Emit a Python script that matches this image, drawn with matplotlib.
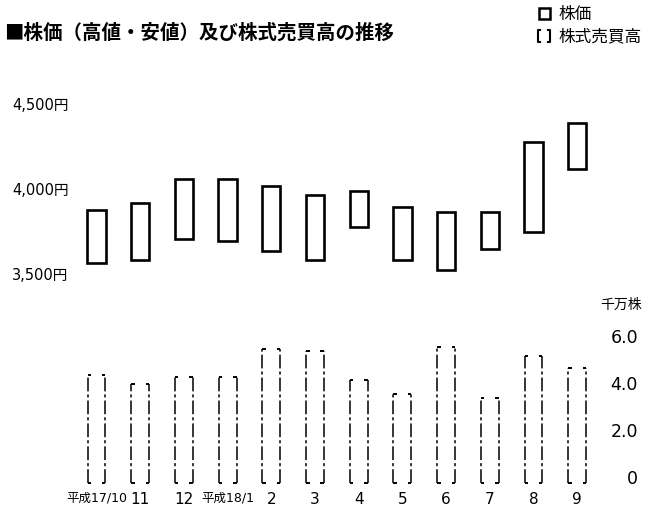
import matplotlib
matplotlib.use('Agg')
import matplotlib.pyplot as plt
from matplotlib.patches import Rectangle
import numpy as np

plt.rcParams['font.family'] = ['DejaVu Sans', 'Noto Sans CJK JP']

# 月ラベル
months = ['平成17/10', '11', '12', '平成18/1', '2', '3', '4', '5', '6', '7', '8', '9']
# 株価 高値・安値（円）
high = [3880, 3920, 4060, 4060, 4020, 3970, 3990, 3900, 3870, 3870, 4280, 4390]
low = [3570, 3590, 3710, 3700, 3640, 3590, 3780, 3590, 3530, 3650, 3750, 4120]
# 株式売買高（千万株）
volume = [4.6, 4.2, 4.5, 4.5, 5.7, 5.6, 4.4, 3.8, 5.8, 3.6, 5.4, 4.9]

price_ticks = [3500, 4000, 4500]
price_labels = ['3,500円', '4,000円', '4,500円']
vol_ticks = [0, 2, 4, 6]
vol_labels = ['0', '2.0', '4.0', '6.0']

W, H = 650, 510
fig = plt.figure(figsize=(6.5, 5.1), dpi=100)

x = np.arange(len(months))
xlim = (-96.5 / 43.7, (W - 96.5) / 43.7)

# 株価
ax1 = fig.add_axes([0, 1 - 290 / H, 1, 200 / H])
ax1.set_xlim(*xlim)
ax1.set_ylim(3418, 4588)
ax1.axis('off')
ax1.bar(x, np.array(high) - np.array(low), bottom=low, width=0.42,
        facecolor='white', edgecolor='black', linewidth=1.9)
for v, lab in zip(price_ticks, price_labels):
    ax1.text(12 / W, v, lab, transform=ax1.get_yaxis_transform(),
             ha='left', va='center', fontsize=10.5)

# 株式売買高
ax2 = fig.add_axes([0, 1 - 486.4 / H, 1, 166.4 / H])
ax2.set_xlim(*xlim)
ax2.set_ylim(-0.1, 6.98)
for s in ax2.spines.values():
    s.set_visible(False)
ax2.set_yticks([])
half = 0.205
hook = 0.08
dash = (0, (9, 2, 2, 2))
ax2.vlines(x - half, 0, volume, colors='black', linewidth=1.1, linestyles=dash)
ax2.vlines(x + half, 0, volume, colors='black', linewidth=1.1, linestyles=dash)
for xi, v in zip(x, volume):
    for y in (0, v):
        ax2.plot([xi - half, xi - half + hook], [y, y], color='black', lw=1.4,
                 solid_capstyle='butt')
        ax2.plot([xi + half - hook, xi + half], [y, y], color='black', lw=1.4,
                 solid_capstyle='butt')
ax2.set_xticks(x)
ax2.set_xticklabels(months)
ax2.tick_params(axis='x', length=0, pad=4)
for t in ax2.get_xticklabels():
    t.set_fontsize(9 if t.get_text().startswith('平成') else 11)
for v, lab in zip(vol_ticks, vol_labels):
    ax2.text(638 / W, v, lab, transform=ax2.get_yaxis_transform(),
             ha='right', va='baseline', fontsize=12.5)
fig.text(642 / W, 1 - 305 / H, '千万株', ha='right', va='center', fontsize=10,
         family=['Noto Sans CJK JP'])

# タイトル
fig.text(4 / W, 1 - 33 / H, '■株価（高値・安値）及び株式売買高の推移',
         ha='left', va='center', fontsize=14, fontweight='bold',
         family=['Noto Sans CJK JP'])

# 凡例
ov = fig.add_axes([0, 0, 1, 1])
ov.set_xlim(0, W)
ov.set_ylim(H, 0)
ov.axis('off')
ov.add_patch(Rectangle((538.5, 8.5), 11, 11, fill=False, edgecolor='black', lw=1.8))
ov.plot([540, 538, 538, 540], [31, 31, 43, 43], color='black', lw=1.5)
ov.plot([548, 550, 550, 548], [31, 31, 43, 43], color='black', lw=1.5)
fig.text(558 / W, 1 - 14 / H, '株価', ha='left', va='center', fontsize=12,
         family=['Noto Sans CJK JP'])
fig.text(558 / W, 1 - 37 / H, '株式売買高', ha='left', va='center', fontsize=12,
         family=['Noto Sans CJK JP'])

fig.savefig('out.png', dpi=100)
